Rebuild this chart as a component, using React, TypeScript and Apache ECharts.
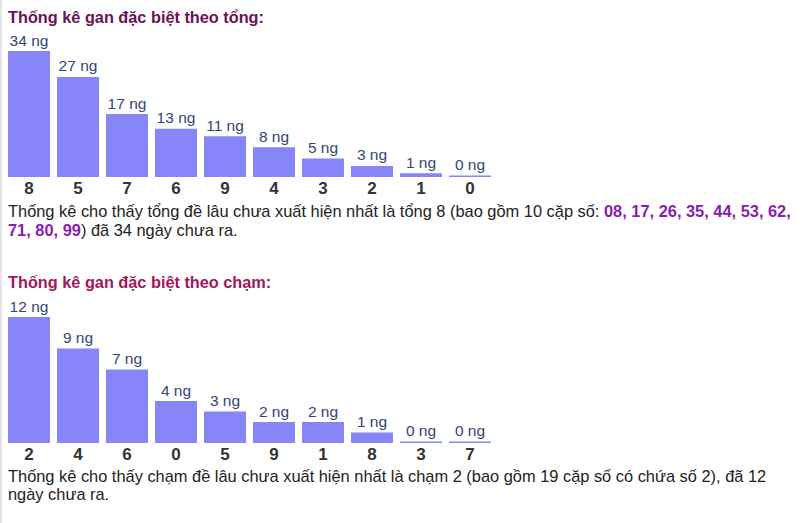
import React, { useEffect, useRef } from "react";
import * as echarts from "echarts";

const tongCategories = ["8", "5", "7", "6", "9", "4", "3", "2", "1", "0"];
const tongValues = [34, 27, 17, 13, 11, 8, 5, 3, 1, 0];
const chamCategories = ["2", "4", "6", "0", "5", "9", "1", "8", "3", "7"];
const chamValues = [12, 9, 7, 4, 3, 2, 2, 1, 0, 0];

const title1 = "Thống kê gan đặc biệt theo tổng:";
const title2 = "Thống kê gan đặc biệt theo chạm:";
const para1a = "Thống kê cho thấy tổng đề lâu chưa xuất hiện nhất là tổng 8 (bao gồm 10 cặp số: ";
const para1Nums1 = "08, 17, 26, 35, 44, 53, 62,";
const para1Nums2 = "71, 80, 99";
const para1b = ") đã 34 ngày chưa ra.";
const para2 = "Thống kê cho thấy chạm đề lâu chưa xuất hiện nhất là chạm 2 (bao gồm 19 cặp số có chứa số 2), đã 12\nngày chưa ra.";

const BAR_COLOR = "#8686f8";
const FONT = "Arial, 'Liberation Sans', sans-serif";

export default function App() {
  const ref = useRef<HTMLDivElement>(null);
  useEffect(() => {
    if (!ref.current) return;
    const chart = echarts.init(ref.current, undefined, { renderer: "svg" });
    const mkX = (idx: number, data: string[]) => ({
      type: "category",
      gridIndex: idx,
      data,
      axisLine: { show: false },
      axisTick: { show: false },
      axisLabel: {
        margin: 3,
        fontSize: 17,
        fontWeight: "bold",
        color: "#333",
        fontFamily: FONT,
      },
    });
    const mkY = (idx: number, vals: number[]) => ({
      type: "value",
      gridIndex: idx,
      min: 0,
      max: Math.max(...vals),
      show: false,
      splitLine: { show: false },
    });
    const mkS = (idx: number, vals: number[]) => ({
      type: "bar",
      xAxisIndex: idx,
      yAxisIndex: idx,
      data: vals,
      barWidth: 42,
      barMinHeight: 1.5,
      itemStyle: { color: BAR_COLOR },
      label: {
        show: true,
        position: "top",
        distance: 3,
        formatter: "{c} ng",
        fontSize: 15.5,
        color: "#34447a",
        fontFamily: FONT,
      },
    });
    chart.setOption({
      animation: false,
      backgroundColor: "#fff",
      grid: [
        { left: 4.5, width: 490, top: 51, height: 126 },
        { left: 4.5, width: 490, top: 317, height: 126 },
      ],
      xAxis: [mkX(0, tongCategories), mkX(1, chamCategories)],
      yAxis: [mkY(0, tongValues), mkY(1, chamValues)],
      series: [mkS(0, tongValues), mkS(1, chamValues)],
      graphic: [
        {
          type: "line",
          shape: { x1: 1, y1: 0, x2: 1, y2: 523 },
          style: { stroke: "#e6e6e6", lineWidth: 2 },
        },
        {
          type: "text",
          x: 8,
          y: 17,
          style: {
            text: title1,
            fontSize: 16.3,
            fontWeight: "bold",
            fill: "#6b1158",
            fontFamily: FONT,
            verticalAlign: "middle",
          },
        },
        {
          type: "text",
          x: 8,
          y: 282,
          style: {
            text: title2,
            fontSize: 16.3,
            fontWeight: "bold",
            fill: "#a3165c",
            fontFamily: FONT,
            verticalAlign: "middle",
          },
        },
        {
          type: "text",
          x: 8,
          y: 201,
          style: {
            text:
              "{t|" + para1a + "}{n|" + para1Nums1 + "}\n{n|" + para1Nums2 + "}{t|" + para1b + "}",
            fontFamily: FONT,
            rich: {
              t: { fontSize: 16.4, fill: "#222", fontFamily: FONT, lineHeight: 19 },
              n: { fontSize: 16.4, fill: "#8a1db0", fontWeight: "bold", fontFamily: FONT, lineHeight: 19 },
            },
          },
        },
        {
          type: "text",
          x: 8,
          y: 467,
          style: {
            text: para2,
            fontSize: 16.4,
            fill: "#222",
            fontFamily: FONT,
            lineHeight: 18,
          },
        },
      ],
    });
    return () => chart.dispose();
  }, []);
  return (
    <div
      ref={ref}
      style={{ position: "fixed", left: 0, top: 0, width: 800, height: 523 }}
    />
  );
}
